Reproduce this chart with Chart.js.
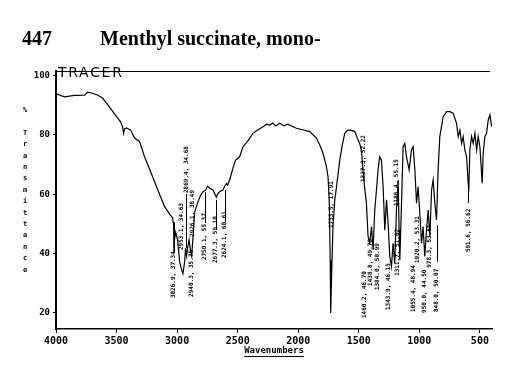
<!DOCTYPE html>
<html>
<head>
<meta charset="utf-8">
<script src="https://cdn.jsdelivr.net/npm/chart.js@4/dist/chart.umd.min.js"></script>
<style>
  html, body { margin: 0; padding: 0; background: #fff; }
  #wrap { position: relative; width: 513px; height: 383px; overflow: hidden; }
  canvas { position: absolute; left: 0; top: 0; }
  .t { position: absolute; white-space: nowrap; color: #000; }
  #num { left: 22px; top: 28px; font: bold 20px/20px "Liberation Serif", serif; }
  #name { left: 100px; top: 28px; font: bold 20px/20px "Liberation Serif", serif; }
  #tracer { left: 58px; top: 65px; font: 14px/14px "DejaVu Sans", sans-serif; letter-spacing: 1.7px; }
  #ylab { left: 20px; top: 105px; width: 10px; text-align: center; font: bold 7px/11.4px "DejaVu Sans Mono", monospace; }
</style>
</head>
<body>
<div id="wrap">
  <canvas id="c" width="513" height="383"></canvas>
  <div class="t" id="num">447</div>
  <div class="t" id="name">Menthyl succinate, mono-</div>
  <div class="t" id="tracer">TRACER</div>
  <div class="t" id="ylab">%<br><br>T<br>r<br>a<br>n<br>s<br>m<br>i<br>t<br>t<br>a<br>n<br>c<br>e</div>
</div>
<script>
// ---- data (wavenumber cm-1, % transmittance) ----
const wavenumbers = [
  3996, 3930, 3847, 3764, 3740, 3707, 3657, 3616, 3583, 3541, 3500, 3467, 3450, 3442, 3434, 3417,
  3384, 3351, 3310, 3269, 3213, 3159, 3103, 3062, 3037, 3029, 3026, 3021, 3012, 2996, 2979, 2963,
  2952, 2938, 2930, 2922, 2913, 2901, 2888, 2880, 2869, 2855, 2831, 2806, 2787, 2765, 2748, 2731,
  2704, 2676, 2665, 2649, 2622, 2607, 2593, 2583, 2566, 2539, 2517, 2484, 2456, 2417, 2374, 2335,
  2291, 2261, 2236, 2211, 2186, 2153, 2120, 2087, 2054, 2015, 1971, 1905, 1850, 1822, 1795, 1767,
  1754, 1744, 1736, 1732, 1723, 1713, 1698, 1684, 1657, 1636, 1616, 1591, 1566, 1533, 1506, 1492,
  1478, 1465, 1451, 1437, 1423, 1409, 1395, 1382, 1368, 1354, 1341, 1327, 1313, 1299, 1285, 1271,
  1258, 1244, 1230, 1217, 1203, 1189, 1175, 1167, 1161, 1147, 1134, 1120, 1106, 1084, 1065, 1051,
  1037, 1023, 1010, 996, 982, 969, 955, 941, 927, 913, 899, 886, 872, 858, 845, 831,
  803, 775, 748, 721, 693, 679, 665, 651, 638, 624, 610, 597, 592, 583, 569, 555,
  541, 527, 514, 500, 481, 473, 459, 445, 431, 417, 403
];
const transmittance = [
  93.8, 92.8, 93.3, 93.4, 94.4, 94.1, 93.4, 92.4, 90.7, 88.4, 86.1, 84.4, 82.7, 80.5, 82.0, 82.3,
  81.6, 78.9, 77.7, 72.6, 67.0, 61.4, 55.8, 53.3, 52.0, 49.6, 40.0, 45.0, 47.2, 44.6, 37.2, 34.5,
  33.2, 37.2, 41.9, 39.2, 41.9, 44.6, 40.5, 39.2, 45.3, 54.0, 57.0, 59.7, 60.8, 61.4, 62.7, 62.0,
  61.4, 59.0, 60.1, 60.8, 61.4, 62.7, 63.6, 63.1, 64.8, 68.8, 71.5, 72.6, 76.0, 77.9, 80.5, 81.6,
  82.7, 83.6, 83.3, 84.0, 83.0, 83.9, 83.0, 83.6, 83.0, 82.2, 81.8, 81.1, 78.9, 76.6, 73.8, 69.3,
  65.9, 58.1, 37.9, 20.0, 34.5, 49.1, 58.1, 62.5, 71.5, 76.6, 80.5, 81.6, 81.6, 81.1, 78.3, 77.0,
  74.9, 68.0, 62.0, 57.0, 45.7, 43.6, 49.1, 41.2, 54.7, 61.4, 68.2, 72.6, 71.5, 62.5, 47.9, 58.1,
  50.3, 39.0, 35.6, 43.5, 36.7, 54.7, 64.8, 47.9, 37.8, 57.0, 76.0, 77.1, 72.6, 68.2, 74.9, 76.0,
  68.2, 57.0, 62.5, 53.6, 43.5, 49.1, 39.0, 47.9, 54.7, 45.7, 61.4, 64.8, 57.0, 51.3, 68.2, 79.4,
  86.1, 87.8, 87.8, 87.3, 83.9, 79.4, 81.6, 77.1, 79.4, 74.9, 72.6, 64.0, 61.0, 74.9, 79.4, 77.1,
  80.5, 74.9, 79.4, 76.0, 63.7, 73.8, 79.4, 80.5, 85.0, 86.7, 82.7
];
const xTicks = [4000, 3500, 3000, 2500, 2000, 1500, 1000, 500];
const yTicks = [20, 40, 60, 80, 100];

// peak annotations
const peakText = [
  "3026.9, 37.34", "2953.1, 34.63", "2869.4, 34.68", "2926.1, 36.49", "2940.3, 35.75",
  "2750.1, 55.37", "2677.3, 59.10", "2624.1, 60.61", "1733.5, 17.91", "1460.2, 46.70",
  "1438.8, 49.78", "1384.0, 50.99", "1343.9, 46.15", "1311.7, 51.02", "1055.4, 48.94",
  "950.0, 44.50", "848.0, 50.07", "591.6, 56.62", "1327.3, 52.22", "1186.4, 55.15",
  "978.3, 53.61", "1020.2, 53.31"
];
const peakTextWn = [3029, 2963, 2926, 2872, 2884, 2773, 2682, 2607, 1723, 1451,
  1401, 1343, 1252, 1178, 1046, 955, 856, 595, 1459, 1190, 913, 1013];
const peakTextBaseT = [25.0, 41.2, 60.4, 45.6, 25.4, 37.8, 36.8, 38.5, 48.6, 18.3,
  29.1, 27.7, 21.0, 32.5, 20.3, 20.0, 20.3, 40.5, 64.1, 56.0, 35.2, 36.8];
// leader lines: [wavenumber, fromT, toT]
const leaderWn = [3029, 2926, 2773, 2682, 2607, 856, 595];
const leaderFromT = [40.5, 60.1, 50.3, 48.0, 50.6, 37.2, 57.0];
const leaderToT = [50.6, 41.9, 60.7, 58.1, 61.4, 49.6, 64.1];

const points = wavenumbers.map((w, i) => ({ x: w, y: transmittance[i] }));

const extras = {
  id: 'extras',
  afterDraw(chart) {
    const ctx = chart.ctx, a = chart.chartArea;
    const xs = chart.scales.x, ys = chart.scales.y;
    ctx.save();
    ctx.strokeStyle = '#000';
    ctx.lineWidth = 1;
    // top frame line
    ctx.beginPath();
    ctx.moveTo(a.left, a.top + 0.5);
    ctx.lineTo(a.right - 2, a.top + 0.5);
    ctx.stroke();
    // underline of axis title
    ctx.font = 'bold 9px "DejaVu Sans Mono", monospace';
    const tw = ctx.measureText('Wavenumbers').width;
    const cx = (a.left + a.right) / 2;
    ctx.beginPath();
    ctx.moveTo(cx - tw / 2, 356.5);
    ctx.lineTo(cx + tw / 2, 356.5);
    ctx.stroke();
    // leader lines
    for (let i = 0; i < leaderWn.length; i++) {
      const x = Math.round(xs.getPixelForValue(leaderWn[i])) + 0.5;
      ctx.beginPath();
      ctx.moveTo(x, ys.getPixelForValue(leaderFromT[i]));
      ctx.lineTo(x, ys.getPixelForValue(leaderToT[i]));
      ctx.stroke();
    }
    // peak labels (vertical text)
    ctx.fillStyle = '#000';
    ctx.font = 'bold 6px "DejaVu Sans Mono", monospace';
    ctx.textAlign = 'left';
    ctx.textBaseline = 'middle';
    for (let i = 0; i < peakText.length; i++) {
      const x = xs.getPixelForValue(peakTextWn[i]);
      const y = ys.getPixelForValue(peakTextBaseT[i]);
      ctx.save();
      ctx.translate(x, y);
      ctx.rotate(-Math.PI / 2);
      ctx.fillText(peakText[i], 0, 0);
      ctx.restore();
    }
    ctx.restore();
  }
};

new Chart(document.getElementById('c'), {
  type: 'line',
  data: {
    datasets: [{
      data: points,
      borderColor: '#000',
      borderWidth: 1.2,
      pointRadius: 0,
      tension: 0,
      fill: false
    }]
  },
  options: {
    responsive: false,
    animation: false,
    devicePixelRatio: 1,
    layout: { padding: { top: 71, right: 21, bottom: 0, left: 0 } },
    plugins: { legend: { display: false }, tooltip: { enabled: false }, title: { display: false } },
    scales: {
      x: {
        type: 'linear',
        reverse: true,
        min: 400,
        max: 4000,
        afterBuildTicks: s => { s.ticks = xTicks.map(v => ({ value: v })); },
        afterFit: s => { s.height = 54; },
        grid: { drawOnChartArea: false, drawTicks: true, tickLength: 4, color: '#000' },
        border: { display: true, color: '#000', width: 1.5 },
        ticks: {
          color: '#000', padding: 2, maxRotation: 0, autoSkip: false,
          font: { family: 'DejaVu Sans Mono', weight: 'bold', size: 10 },
          callback: v => String(v)
        },
        title: {
          display: true, text: 'Wavenumbers', color: '#000',
          font: { family: 'DejaVu Sans Mono', weight: 'bold', size: 9 },
          padding: { top: 0, bottom: 27 }
        }
      },
      y: {
        type: 'linear',
        min: 14.6,
        max: 101.5,
        afterBuildTicks: s => { s.ticks = yTicks.map(v => ({ value: v })); },
        afterFit: s => { s.width = 56; },
        grid: { drawOnChartArea: false, drawTicks: true, tickLength: 3, color: '#000' },
        border: { display: true, color: '#000', width: 2 },
        ticks: {
          color: '#000', padding: 3, autoSkip: false,
          font: { family: 'DejaVu Sans Mono', weight: 'bold', size: 9 },
          callback: v => String(v)
        }
      }
    }
  },
  plugins: [extras]
});
</script>
</body>
</html>
